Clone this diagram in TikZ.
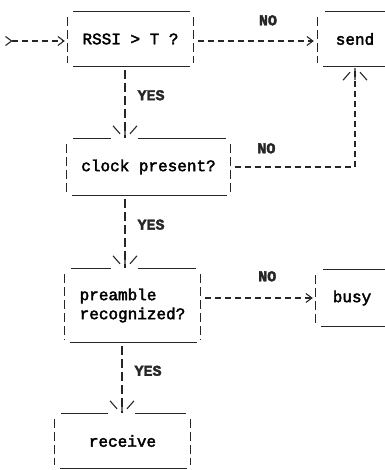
\documentclass[tikz,border=0pt]{standalone}
\usepackage{fontspec}
\newfontfamily\asciifont[FakeBold=2.5]{Liberation Mono}
\usetikzlibrary{arrows.meta,calc}

% the \|/ tip of the vertical connectors
\pgfdeclarearrow{
	name=asciivee,
	setup code={%
		\pgfarrowssettipend{0pt}\pgfarrowssetlineend{-1pt}%
		\pgfarrowssetbackend{-13pt}\pgfarrowssetvisualbackend{-13pt}%
		\pgfarrowshullpoint{0pt}{0pt}\pgfarrowshullpoint{-13pt}{12pt}\pgfarrowshullpoint{-13pt}{-12pt}},
	drawing code={%
		\pgfsetdash{}{0pt}%
		\pgfpathmoveto{\pgfqpoint{-13pt}{12pt}}\pgfpathlineto{\pgfqpoint{-5pt}{5pt}}%
		\pgfpathmoveto{\pgfqpoint{-13pt}{-12pt}}\pgfpathlineto{\pgfqpoint{-5pt}{-5pt}}%
		\pgfpathmoveto{\pgfqpoint{-13pt}{0pt}}\pgfpathlineto{\pgfqpoint{-1pt}{0pt}}%
		\pgfusepathqstroke}
}

% frame of a box: dashed sides, solid bottom rule
\newcommand{\asciibox}[1]{%
	\draw[side] ($(#1.north west)+(0,5)$) -- ($(#1.south west)+(0,-3)$);
	\draw[side] ($(#1.north east)+(0,5)$) -- ($(#1.south east)+(0,-3)$);
	\draw[rule] ($(#1.south west)+(5,0)$) -- ($(#1.south east)+(-3,0)$);
}

\begin{document}
\begin{tikzpicture}[x=1pt,y=-1pt,
	font=\asciifont\fontsize{16}{19}\selectfont,
	box/.style={inner sep=0pt},
	rule/.style={line width=1.1pt,black!85},
	side/.style={line width=1.1pt,black!85,dash pattern=on 9pt off 4pt},
	conn/.style={line width=1.1pt,black!85,dash pattern=on 6pt off 4pt},
	vconn/.style={line width=1.1pt,black!85,dash pattern=on 9pt off 4pt},
	lbl/.style={inner sep=0pt,font=\asciifont\bfseries\fontsize{15}{15}\selectfont},
	htip/.tip={Straight Barb[length=6pt,width=9pt]}]
	\useasboundingbox (0,0) rectangle (384,470);

	\node[box,minimum width=125,minimum height=54] (rssi) at (130.5,39) {RSSI > T ?};
	\node[box,minimum width=74,minimum height=54] (send) at (355,39) {send};
	\node[box,minimum width=163,minimum height=56] (clock) at (148.5,167) {clock present?};
	\node[box,minimum width=135,minimum height=73,align=left] (pre) at (132.5,305.5) {preamble\\recognized?};
	\node[box,minimum width=72,minimum height=56] (busy) at (352,298) {busy};
	\node[box,minimum width=135,minimum height=54] (recv) at (122.5,441) {receive};

	\coordinate (in) at (5,41);
	\coordinate (col) at (125,0);
	\coordinate (col2) at (122,0);

	% frames
	\foreach \n in {rssi,send,clock,pre,busy,recv} {\asciibox{\n}}
	\draw[rule] ($(rssi.north west)+(5,0)$) -- ($(rssi.north east)+(-3,0)$);
	\draw[rule] ($(send.north west)+(7,0)$) -- (send.north east);
	\draw[rule] ($(busy.north west)+(7,0)$) -- (busy.north east);
	\foreach \n/\c in {clock/col,pre/col,recv/col2} {
		\draw[rule] ($(\n.north west)+(6,0)$) -- ($(\n.north -| \c)+(-14,0)$);
		\draw[rule] ($(\n.north -| \c)+(13,0)$) -- ($(\n.north east)+(-4,0)$);
	}

	% connectors
	\draw[conn,{htip[reversed]}-htip,shorten >=3pt] (in) -- (in -| rssi.west);
	\draw[conn,-htip,shorten <=5pt,shorten >=4pt] (in -| rssi.east) -- (in -| send.west)
		node[lbl,pos=0.6,above=15pt] {NO};
	\draw[vconn,-asciivee,shorten <=4pt] (rssi.south -| col) -- (clock.north -| col)
		node[lbl,pos=0.4,right=12pt] {YES};
	\draw[conn,-asciivee,shorten <=5pt,shorten >=1pt] (clock.east) -| (send.south)
		node[lbl,pos=0.145,above=13pt] {NO};
	\draw[vconn,-asciivee,shorten <=4pt] (clock.south -| col) -- (pre.north -| col)
		node[lbl,pos=0.4,right=12pt] {YES};
	\draw[conn,-htip,shorten <=5pt,shorten >=3pt] (pre.east |- busy.west) -- (busy.west)
		node[lbl,pos=0.58,above=16pt] {NO};
	\draw[vconn,-asciivee,shorten <=4pt] (pre.south -| col2) -- (recv.north -| col2)
		node[lbl,pos=0.4,right=12pt] {YES};
\end{tikzpicture}
\end{document}
